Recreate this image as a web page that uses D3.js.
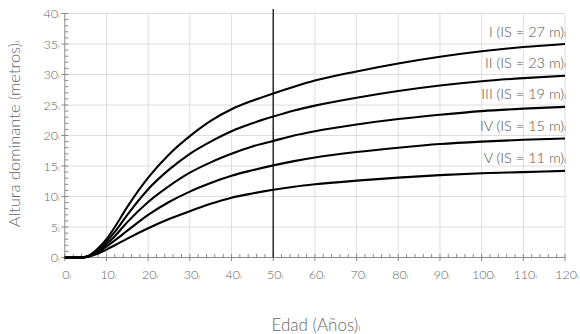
<!DOCTYPE html>
<html>
<head>
<meta charset="utf-8">
<script src="https://cdn.jsdelivr.net/npm/d3@7"></script>
<style>
  html, body { margin: 0; padding: 0; background: #fff; }
  svg { display: block; }
  text { font-family: "Lato", "Open Sans", sans-serif; fill: #666; font-weight: 300; }
</style>
</head>
<body>
<svg id="chart" width="580" height="334"></svg>
<script>
// ---- data ----
const ages = [0, 4, 5, 6, 7, 8, 10, 12, 15, 20, 25, 30, 35, 40, 45, 50, 55, 60, 70, 80, 90, 100, 110, 120];
const siteI   = [0, 0, 0.1, 0.4, 0.9, 1.5, 3.0, 5.0, 8.3, 13.1, 16.9, 19.9, 22.4, 24.3, 25.7, 26.9, 28.0, 29.0, 30.5, 31.8, 32.9, 33.8, 34.5, 35.0];
const siteII  = [0, 0, 0.1, 0.35, 0.8, 1.3, 2.6, 4.2, 7.0, 11.2, 14.4, 17.0, 19.0, 20.7, 22.0, 23.1, 24.1, 24.9, 26.2, 27.3, 28.2, 28.9, 29.4, 29.8];
const siteIII = [0, 0, 0.1, 0.3, 0.7, 1.1, 2.2, 3.5, 5.8, 9.1, 11.7, 13.9, 15.6, 17.0, 18.2, 19.1, 20.0, 20.7, 21.8, 22.7, 23.4, 24.0, 24.4, 24.7];
const siteIV  = [0, 0, 0.08, 0.25, 0.55, 0.9, 1.8, 2.8, 4.4, 7.0, 9.1, 10.8, 12.2, 13.4, 14.3, 15.1, 15.8, 16.4, 17.3, 18.0, 18.6, 19.0, 19.3, 19.5];
const siteV   = [0, 0, 0.05, 0.2, 0.4, 0.65, 1.3, 2.0, 3.1, 4.8, 6.3, 7.6, 8.8, 9.8, 10.5, 11.1, 11.6, 12.0, 12.6, 13.1, 13.5, 13.8, 14.0, 14.2];
const seriesValues = [siteI, siteII, siteIII, siteIV, siteV];
const seriesLabels = ["I (IS = 27 m)", "II (IS = 23 m)", "III (IS = 19 m)", "IV (IS = 15 m)", "V (IS = 11 m)"];
const xTicks = [0, 10, 20, 30, 40, 50, 60, 70, 80, 90, 100, 110, 120];
const yTicks = [0, 5, 10, 15, 20, 25, 30, 35, 40];
const refAge = 50;
const xTitle = "Edad (Años)";
const yTitle = "Altura dominante (metros)";
const mark = "ı";

// ---- layout ----
const svg = d3.select("#chart");
const x = d3.scaleLinear().domain([0, 120]).range([64.8, 565]);
const y = d3.scaleLinear().domain([0, 40]).range([257.5, 13.5]);

const grid = svg.append("g");
grid.selectAll("line.v").data(xTicks.filter(d => d > 0)).join("line")
  .attr("x1", d => x(d)).attr("x2", d => x(d))
  .attr("y1", y(40)).attr("y2", y(0))
  .attr("stroke", "#dedede").attr("stroke-width", 1);
grid.selectAll("line.h").data(yTicks.filter(d => d > 0)).join("line")
  .attr("x1", x(0)).attr("x2", x(120))
  .attr("y1", d => y(d)).attr("y2", d => y(d))
  .attr("stroke", "#dedede").attr("stroke-width", 1);

// axes
const axisCol = "#8a8a8a";
const ax = svg.append("g");
ax.append("line").attr("x1", x(0)).attr("x2", x(0)).attr("y1", y(40)).attr("y2", y(0))
  .attr("stroke", axisCol).attr("stroke-width", 1);
ax.append("line").attr("x1", x(0)).attr("x2", x(120)).attr("y1", y(0)).attr("y2", y(0))
  .attr("stroke", axisCol).attr("stroke-width", 1);
ax.selectAll("line.ym").data(d3.range(0, 41, 1).filter(d => d % 5 !== 0)).join("line")
  .attr("x1", x(0)).attr("x2", x(0) + 3.5)
  .attr("y1", d => y(d)).attr("y2", d => y(d))
  .attr("stroke", axisCol);
ax.selectAll("line.yM").data(yTicks).join("line")
  .attr("x1", x(0) - 3.5).attr("x2", x(0) + 3.5)
  .attr("y1", d => y(d)).attr("y2", d => y(d))
  .attr("stroke", axisCol);
ax.selectAll("line.xm").data(d3.range(0, 121, 2).filter(d => d % 10 !== 0)).join("line")
  .attr("x1", d => x(d)).attr("x2", d => x(d))
  .attr("y1", y(0)).attr("y2", y(0) - 3.5)
  .attr("stroke", axisCol);
ax.selectAll("line.xM").data(xTicks).join("line")
  .attr("x1", d => x(d)).attr("x2", d => x(d))
  .attr("y1", y(0) - 3.5).attr("y2", y(0) + 3.5)
  .attr("stroke", axisCol);

function withMark(sel, txt, size) {
  sel.text(null);
  sel.append("tspan").text(txt);
  sel.append("tspan").text(mark).attr("font-size", size * 0.6);
}

ax.selectAll("text.yl").data(yTicks).join("text")
  .attr("x", x(0) - 5).attr("y", d => y(d) + 4.5)
  .attr("text-anchor", "end").attr("font-size", 12.5)
  .each(function(d) { withMark(d3.select(this), String(d), 12.5); });
ax.selectAll("text.xl").data(xTicks).join("text")
  .attr("x", d => x(d) + 2).attr("y", 278.5)
  .attr("text-anchor", "middle").attr("font-size", 12.5)
  .each(function(d) { withMark(d3.select(this), String(d), 12.5); });

// reference line
svg.append("line").attr("x1", x(refAge)).attr("x2", x(refAge))
  .attr("y1", 9).attr("y2", y(0))
  .attr("stroke", "#111").attr("stroke-width", 1.3);

// curves
const line = d3.line().x((d, i) => x(ages[i])).y(d => y(d)).curve(d3.curveMonotoneX);
svg.append("g").selectAll("path").data(seriesValues).join("path")
  .attr("d", d => line(d))
  .attr("fill", "none").attr("stroke", "#000").attr("stroke-width", 2.1)
  .attr("stroke-linejoin", "round");

// series labels
svg.append("g").selectAll("text").data(seriesValues).join("text")
  .attr("x", 566).attr("y", d => y(d[d.length - 1]) - 7.5)
  .attr("text-anchor", "end").attr("font-size", 14.5).style("fill", "#555")
  .each(function(d, i) { withMark(d3.select(this), seriesLabels[i], 14.5); });

// titles
const xt = svg.append("text").attr("x", 316).attr("y", 330.5)
  .attr("text-anchor", "middle").attr("font-size", 17);
withMark(xt, xTitle, 17);
const yt = svg.append("text")
  .attr("transform", `translate(20,134) rotate(-90)`)
  .attr("text-anchor", "middle").attr("font-size", 16.5);
withMark(yt, yTitle, 16.5);
</script>
</body>
</html>
